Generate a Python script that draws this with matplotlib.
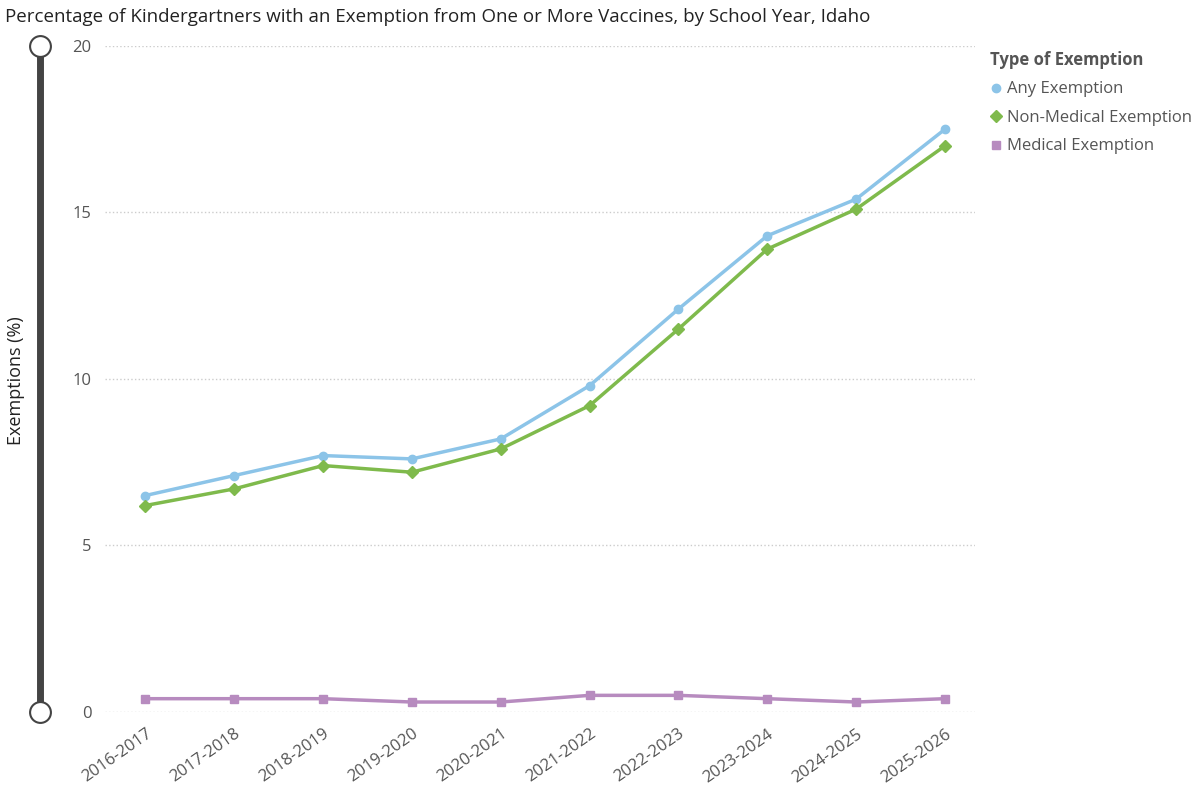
import matplotlib.pyplot as plt
from matplotlib.lines import Line2D

years = ['2016-2017', '2017-2018', '2018-2019', '2019-2020', '2020-2021',
         '2021-2022', '2022-2023', '2023-2024', '2024-2025', '2025-2026']
any_exempt = [6.5, 7.1, 7.7, 7.6, 8.2, 9.8, 12.1, 14.3, 15.4, 17.5]
non_medical = [6.2, 6.7, 7.4, 7.2, 7.9, 9.2, 11.5, 13.9, 15.1, 17.0]
medical = [0.4, 0.4, 0.4, 0.3, 0.3, 0.5, 0.5, 0.4, 0.3, 0.4]

plt.rcParams['font.family'] = ['Open Sans', 'DejaVu Sans']
fig = plt.figure(figsize=(11.98, 7.92), dpi=100)
ax = fig.add_axes([0.088, 0.101, 0.726, 0.841])

x = range(len(years))
ax.plot(x, any_exempt, color='#8cc4e8', lw=2.5, marker='o', ms=6, label='Any Exemption')
ax.plot(x, non_medical, color='#7fba4c', lw=2.5, marker='D', ms=6, label='Non-Medical Exemption')
ax.plot(x, medical, color='#b78bbf', lw=2.5, marker='s', ms=6, label='Medical Exemption')

ax.set_xlim(-0.45, 9.34)
ax.set_ylim(0, 20)
ax.set_yticks([0, 5, 10, 15, 20])
ax.set_xticks(list(x))
ax.set_xticklabels(years, rotation=35, ha='right', rotation_mode='anchor')
ax.tick_params(length=0, labelsize=12, colors='#555555', pad=10)
ax.grid(axis='y', ls=':', color='#cccccc', lw=1)
for s in ax.spines.values():
    s.set_visible(False)

fig.text(0.004, 0.978, 'Percentage of Kindergartners with an Exemption from One or More Vaccines, by School Year, Idaho',
         fontsize=13.5, color='#222222', va='center')
fig.text(0.013, 0.52, 'Exemptions (%)', rotation=90, fontsize=13, color='#222222', va='center', ha='center')

# slider on the left
y0, y1 = 80 / 792, 746 / 792
xs = 40 / 1198
fig.add_artist(Line2D([xs, xs], [y0, y1], color='#444444', lw=5, transform=fig.transFigure))
for yy in (y0, y1):
    fig.add_artist(Line2D([xs], [yy], marker='o', ms=15, mfc='white', mec='#444444', mew=1.5,
                          transform=fig.transFigure))

leg = ax.legend(loc='upper left', bbox_to_anchor=(1.0, 1.015), frameon=False, fontsize=12,
                title='Type of Exemption', handlelength=0.7, handletextpad=0.3, labelspacing=0.75,
                alignment='left')
leg.get_title().set_fontweight('bold')
leg.get_title().set_color('#555555')
leg.get_title().set_fontsize(12)
for t in leg.get_texts():
    t.set_color('#555555')
for h in leg.legend_handles:
    h.set_linestyle('none')

fig.savefig('out.png', dpi=100)
